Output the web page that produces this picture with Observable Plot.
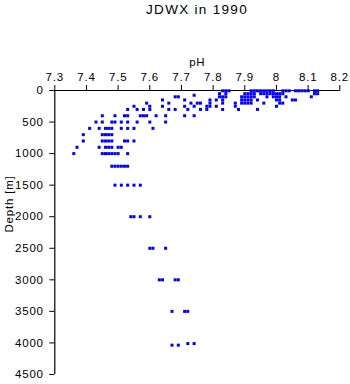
<!DOCTYPE html>
<html>
<head>
<meta charset="utf-8">
<script src="https://cdn.jsdelivr.net/npm/d3@7"></script>
<script src="https://cdn.jsdelivr.net/npm/@observablehq/plot@0.6"></script>
<style>
  html, body { margin: 0; padding: 0; background: #fff; }
  #title { width: 350px; height: 20px; line-height: 20px; box-sizing: border-box; padding-left: 44px;
           text-align: center; font-family: "Liberation Sans", Arial, sans-serif; font-size: 13.5px;
           letter-spacing: 1.3px; color: #000; }
  #chart svg { display: block; }
</style>
</head>
<body>
<div id="title">JDWX in 1990</div>
<div id="chart"></div>
<script>
const title = "JDWX in 1990";
const xLabel = "pH";
const yLabel = "Depth [m]";
const xTicks = [7.3, 7.4, 7.5, 7.6, 7.7, 7.8, 7.9, 8.0, 8.1, 8.2];
const yTicks = [0, 500, 1000, 1500, 2000, 2500, 3000, 3500, 4000, 4500];

// sampling depths (m) and the pH values measured at each depth
const depths = [5, 50, 75, 100, 150, 200, 250, 300, 400, 500, 600, 700, 800, 900, 1000, 1200, 1500, 2000, 2500, 3000, 3500, 4010, 4035];
const phLists = [
  [7.83, 7.84, 7.85, 7.92, 7.93, 7.94, 7.95, 7.96, 7.97, 7.98, 7.99, 8.02, 8.03, 8.04, 8.06, 8.07, 8.08, 8.09, 8.10, 8.12, 8.13],
  [7.82, 7.84, 7.90, 7.91, 7.92, 7.93, 7.95, 7.96, 7.97, 7.98, 7.99, 8.00, 8.01, 8.02, 8.12, 8.13],
  [7.74],
  [7.68, 7.69, 7.82, 7.83, 7.84, 7.89, 7.90, 7.91, 7.92, 7.93, 7.97, 7.99, 8.00, 8.01, 8.03, 8.11],
  [7.64, 7.71, 7.79, 7.81, 7.83, 7.89, 7.90, 7.91, 7.92, 7.94, 8.00, 8.01, 8.05, 8.06],
  [7.59, 7.66, 7.73, 7.75, 7.76, 7.79, 7.83, 7.87, 7.89, 7.90, 7.91, 7.92, 7.96, 8.01, 8.02],
  [7.55, 7.60, 7.64, 7.71, 7.74, 7.78, 7.79, 7.81, 7.87, 8.00],
  [7.53, 7.56, 7.58, 7.60, 7.66, 7.68, 7.72, 7.76, 7.78, 7.83, 7.88, 7.94],
  [7.45, 7.49, 7.52, 7.53, 7.57, 7.58, 7.59, 7.62, 7.65, 7.71, 7.74],
  [7.43, 7.45, 7.48, 7.49, 7.51, 7.53, 7.56, 7.60, 7.65],
  [7.41, 7.44, 7.46, 7.47, 7.48, 7.51, 7.53, 7.55, 7.61],
  [7.39, 7.45, 7.46, 7.47, 7.48],
  [7.39, 7.45, 7.46, 7.47, 7.48, 7.52, 7.53, 7.55],
  [7.37, 7.44, 7.46, 7.47, 7.48, 7.50, 7.51],
  [7.36, 7.45, 7.46, 7.47, 7.48, 7.49, 7.50, 7.53],
  [7.48, 7.49, 7.50, 7.51, 7.52, 7.53],
  [7.49, 7.51, 7.53, 7.55, 7.57],
  [7.54, 7.55, 7.57, 7.60],
  [7.60, 7.61, 7.65],
  [7.63, 7.64, 7.68, 7.69],
  [7.67, 7.71, 7.72],
  [7.72, 7.74],
  [7.67, 7.69]
];

const points = depths.flatMap((d, i) => phLists[i].map(p => ({depth: d, ph: p})));
const fmt = d => String(+d.toFixed(1));

const chart = Plot.plot({
  width: 350,
  height: 364,
  marginLeft: 54.3,
  marginRight: 10.7,
  marginTop: 70,
  marginBottom: 10,
  style: {fontFamily: "'Liberation Sans', Arial, sans-serif", fontSize: "11.5px", letterSpacing: "0.8px", color: "#000", background: "#fff"},
  x: {domain: [7.3, 8.2]},
  y: {domain: [0, 4500], reverse: true},
  marks: [
    Plot.axisX({anchor: "top", ticks: xTicks, tickFormat: fmt, tickSize: 6, tickPadding: 4, label: null}),
    Plot.axisY({anchor: "left", ticks: yTicks, tickFormat: d => String(d), tickSize: 5, tickPadding: 6, label: null}),
    Plot.ruleY([0], {stroke: "#000", strokeWidth: 1.2}),
    Plot.ruleX([7.3], {stroke: "#000", strokeWidth: 1.2}),
    Plot.text([xLabel], {frameAnchor: "top", dy: -28, text: d => d, lineAnchor: "middle", fill: "#000"}),
    Plot.text([yLabel], {frameAnchor: "left", dx: -45, rotate: -90, text: d => d, lineAnchor: "middle", fill: "#000"}),
    Plot.dot(points, {x: "ph", y: "depth", symbol: "square", r: 1.7, fill: "#0000ff", stroke: null})
  ]
});
document.getElementById("chart").appendChild(chart);
</script>
</body>
</html>
